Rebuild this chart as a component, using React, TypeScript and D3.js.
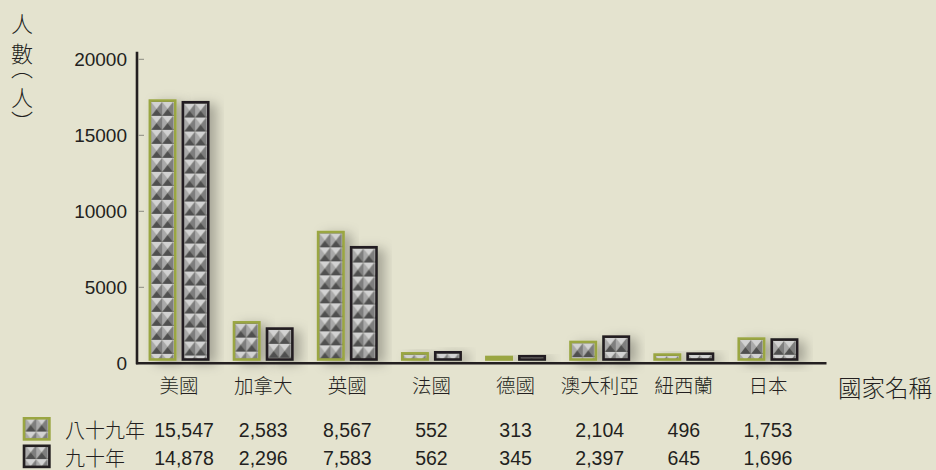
import React, { useEffect, useRef } from "react";
import * as d3 from "d3";

// 國家
const countries = ["美國", "加拿大", "英國", "法國", "德國", "澳大利亞", "紐西蘭", "日本"];
// 年度
const years = ["八十九年", "九十年"];
// 表格數值 (人)
const tableY89 = ["15,547", "2,583", "8,567", "552", "313", "2,104", "496", "1,753"];
const tableY90 = ["14,878", "2,296", "7,583", "562", "345", "2,397", "645", "1,696"];
// 長條高度
const barsY89 = [17370, 2780, 8720, 740, 500, 1490, 660, 1710];
const barsY90 = [17260, 2370, 7720, 810, 550, 1840, 720, 1650];
const yTicks = [0, 5000, 10000, 15000, 20000];
const yTitle = "人數（人）";

const App = () => {
  const svgRef = useRef<SVGSVGElement>(null);

  useEffect(() => {
    const width = 936, height = 470;
    const bg = "#e4e3cf";
    const ink = "#231f20";
    const green = "#9aa642";
    const cjk = "'Noto Sans CJK TC', 'Noto Sans CJK SC', sans-serif";
    const latin = "'Liberation Sans', Arial, sans-serif";

    const svg = d3.select(svgRef.current)
      .attr("width", width)
      .attr("height", height);
    svg.selectAll("*").remove();

    svg.append("rect").attr("width", width).attr("height", height).attr("fill", bg);

    const defs = svg.append("defs");
    // 金字塔紋路, 每根長條自己對齊
    const tw = 11, th = 14;
    const cx = tw / 2, cy = th / 2;
    const faces = [
      { pts: [[0, 0], [tw, 0], [cx, cy]], c: "#d2d2d2" },
      { pts: [[0, 0], [cx, cy], [0, th]], c: "#a9a9a9" },
      { pts: [[tw, 0], [tw, th], [cx, cy]], c: "#7e7e7e" },
      { pts: [[0, th], [cx, cy], [tw, th]], c: "#4f4f4f" },
    ];
    let patId = 0;
    const stud = (x0: number, y0: number) => {
      const id = `stud${patId++}`;
      const pat = defs.append("pattern")
        .attr("id", id)
        .attr("patternUnits", "userSpaceOnUse")
        .attr("x", x0).attr("y", y0)
        .attr("width", tw).attr("height", th);
      faces.forEach(f => {
        pat.append("polygon").attr("points", f.pts.map(p => p.join(",")).join(" ")).attr("fill", f.c);
      });
      return `url(#${id})`;
    };

    const shadow = defs.append("filter").attr("id", "shadow")
      .attr("x", "-60%").attr("y", "-60%").attr("width", "220%").attr("height", "220%");
    shadow.append("feDropShadow")
      .attr("dx", 7).attr("dy", 3).attr("stdDeviation", 6)
      .attr("flood-color", "#000").attr("flood-opacity", 0.28);

    const x = d3.scaleBand<string>()
      .domain(countries)
      .range([137, 810])
      .padding(0);

    const y = d3.scaleLinear()
      .domain([0, 20000])
      .range([363.3, 59.3]);

    const barW = 28, gap = 5, bw = 2.6, lift = 2.5;
    const series = [
      { values: barsY89, stroke: green },
      { values: barsY90, stroke: ink },
    ];
    const barX = (i: number, si: number) =>
      x(countries[i])! + x.bandwidth() / 2 + (si === 0 ? -barW - gap / 2 : gap / 2);

    // 長條
    series.forEach((s, si) => {
      svg.append("g")
        .selectAll("rect")
        .data(s.values)
        .enter().append("rect")
        .attr("x", (d, i) => barX(i, si) + bw / 2)
        .attr("y", d => y(d) + bw / 2)
        .attr("width", barW - bw)
        .attr("height", d => y(0) - lift - y(d) - bw)
        .attr("fill", (d, i) => stud(barX(i, si) + bw, y(d) + bw))
        .attr("stroke", s.stroke)
        .attr("stroke-width", bw)
        .attr("filter", "url(#shadow)");
    });

    // 軸
    svg.append("line")
      .attr("x1", 137).attr("x2", 137)
      .attr("y1", 51.7).attr("y2", y(0) + 1)
      .attr("stroke", ink).attr("stroke-width", 2.6);
    svg.append("line")
      .attr("x1", 136).attr("x2", 826.5)
      .attr("y1", y(0)).attr("y2", y(0))
      .attr("stroke", ink).attr("stroke-width", 2.4);

    const yg = svg.append("g");
    yg.selectAll("line")
      .data(yTicks.filter(t => t > 0))
      .enter().append("line")
      .attr("x1", 138.5).attr("x2", 144)
      .attr("y1", d => y(d)).attr("y2", d => y(d))
      .attr("stroke", "#8a8a80").attr("stroke-width", 1);
    yg.selectAll("text")
      .data(yTicks)
      .enter().append("text")
      .attr("x", 127)
      .attr("y", d => y(d))
      .attr("dy", "0.36em")
      .attr("text-anchor", "end")
      .attr("font-family", latin)
      .attr("font-size", 19)
      .attr("fill", ink)
      .text(d => d);

    // 國家名稱
    svg.append("g")
      .selectAll("text")
      .data(countries)
      .enter().append("text")
      .attr("x", d => x(d)! + x.bandwidth() / 2)
      .attr("y", 393)
      .attr("text-anchor", "middle")
      .attr("font-family", cjk)
      .attr("font-weight", 300)
      .attr("font-size", 19.5)
      .attr("fill", ink)
      .text(d => d);

    svg.append("text")
      .attr("x", 838).attr("y", 397)
      .attr("font-family", cjk)
      .attr("font-weight", 300)
      .attr("font-size", 23.5)
      .attr("fill", ink)
      .text("國家名稱");

    // 直書標題, 每字分開定位
    const titleTops = [13, 43, 57, 87, 111];
    svg.append("g")
      .selectAll("text")
      .data(Array.from(yTitle))
      .enter().append("text")
      .attr("x", 22)
      .attr("y", (d, i) => titleTops[i])
      .attr("writing-mode", "vertical-rl")
      .attr("font-family", cjk)
      .attr("font-weight", 300)
      .attr("font-size", 22)
      .attr("fill", ink)
      .text(d => d);

    // 表格
    const rows = [
      { label: years[0], vals: tableY89, stroke: green, base: 437 },
      { label: years[1], vals: tableY90, stroke: ink, base: 464.5 },
    ];
    rows.forEach(r => {
      const sx = 22.7, sy = r.base - 20;
      svg.append("rect")
        .attr("x", sx + bw / 2).attr("y", sy + bw / 2)
        .attr("width", 28 - bw).attr("height", 23.7 - bw)
        .attr("fill", stud(sx + bw, sy + bw - 2))
        .attr("stroke", r.stroke).attr("stroke-width", bw);
      svg.append("text")
        .attr("x", 65).attr("y", r.base + 1)
        .attr("font-family", cjk)
        .attr("font-weight", 300)
        .attr("font-size", 20)
        .attr("fill", ink)
        .text(r.label);
      svg.append("g")
        .selectAll("text")
        .data(r.vals)
        .enter().append("text")
        .attr("x", (d, i) => x(countries[i])! + x.bandwidth() / 2 + (i === 0 ? 5 : 0))
        .attr("y", r.base)
        .attr("text-anchor", "middle")
        .attr("font-family", latin)
        .attr("font-size", 19.5)
        .attr("fill", ink)
        .text(d => d);
    });
  }, []);

  return <svg ref={svgRef} style={{ position: "fixed", left: 0, top: 0, display: "block" }}></svg>;
};

export default App;
